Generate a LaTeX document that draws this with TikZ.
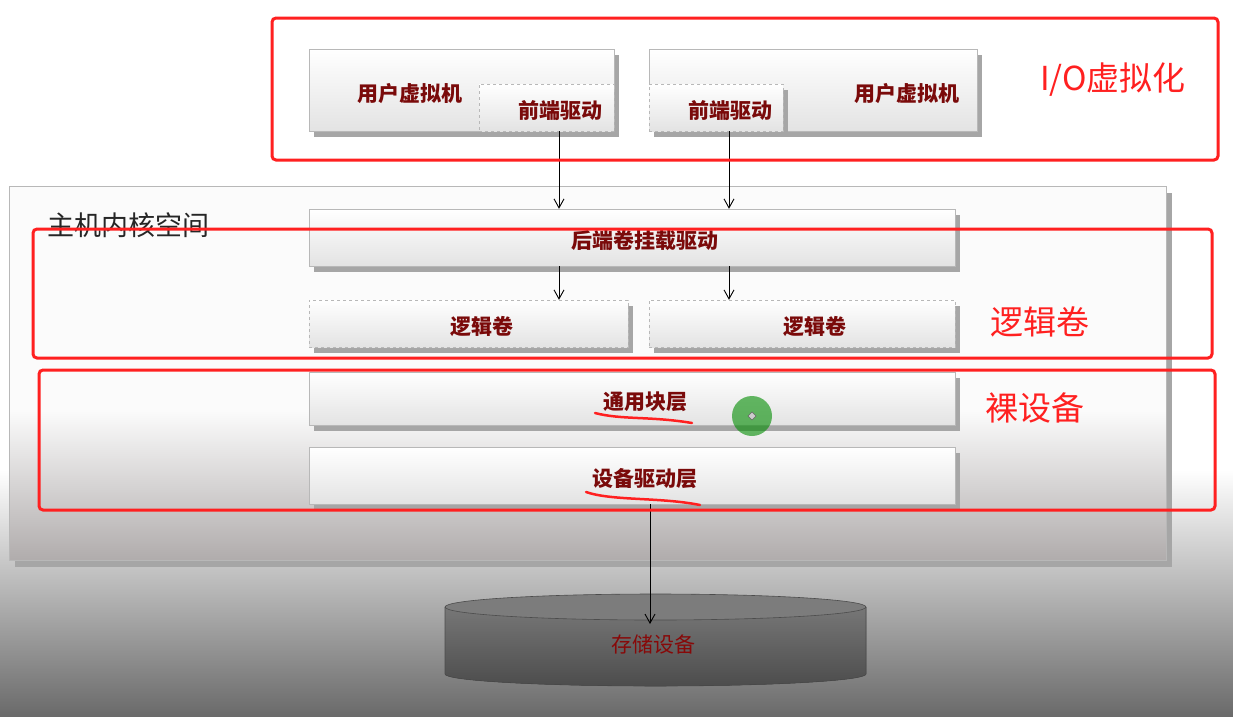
\documentclass[tikz,border=0pt]{standalone}
\usepackage{fontspec}
\setmainfont{Noto Sans CJK SC}
\newfontfamily\cjk{Noto Sans CJK SC}
\usetikzlibrary{arrows.meta,shadows}

\definecolor{boxred}{HTML}{FF2020}
\definecolor{txtred}{HTML}{7A0A0A}
\definecolor{edgegray}{HTML}{B8B8B8}
\definecolor{shadowgray}{HTML}{A6A6A6}
\definecolor{hostgray}{HTML}{B0ACAC}
\definecolor{floorgray}{HTML}{6A6A6A}
\definecolor{diskside}{HTML}{5A5A5A}
\definecolor{disktop}{HTML}{7C7C7C}

\pgfdeclareverticalshading{hostshade}{100bp}{color(0bp)=(hostgray); color(25bp)=(hostgray); color(45bp)=(white!97!gray); color(100bp)=(white!97!gray)}

\tikzset{
  layer/.style={draw=edgegray, top color=white, bottom color=gray!22, inner sep=0pt,
    drop shadow={shadow xshift=5pt, shadow yshift=-6pt, fill=shadowgray, opacity=1}},
  dashlayer/.style={layer, dashed},
  lbl/.style={font=\cjk\bfseries\fontsize{21}{21}\selectfont, text=txtred,
    text height=24pt, text depth=2pt},
  region/.style={draw=boxred, line width=3pt, rounded corners=4pt},
  regionlbl/.style={font=\cjk\fontsize{33}{33}\selectfont, text=boxred, anchor=west, inner sep=0pt},
  flow/.style={-{Straight Barb[length=9pt,width=10pt]}, line width=0.9pt},
  scribble/.style={draw=boxred, line width=2.5pt, line cap=round}
}

\begin{document}
\begin{tikzpicture}[x=1pt, y=-1pt]

  \useasboundingbox (0,0) rectangle (1233,716);
  % background
  \fill[white] (0,0) rectangle (1233,716);
  \fill[top color=white, bottom color=floorgray] (0,470) rectangle (1233,716);

  % host kernel space
  \node[draw=edgegray, shading=hostshade, minimum width=1157pt, minimum height=374pt,
        drop shadow={shadow xshift=6pt, shadow yshift=-7pt, fill=gray!70, opacity=1}]
        (host) at (587.5,373) {};
  \node[font=\cjk\fontsize{27}{27}\selectfont, text=black!85, anchor=west, inner sep=0pt]
        (hostlbl) at (47,225) {主机内核空间};

  % virtual machines
  \node[layer, minimum width=305pt, minimum height=82pt] (vm1) at (461.5,90) {};
  \node[layer, minimum width=328pt, minimum height=82pt] (vm2) at (813,90) {};
  \node[lbl] (vm1txt) at (410,90) {用户虚拟机};
  \node[lbl] (vm2txt) at (907,90) {用户虚拟机};
  \node[dashlayer, lbl, minimum width=135pt, minimum height=47pt] (fe1) at (546.5,107.5) {\hspace*{28pt}前端驱动};
  \node[dashlayer, lbl, minimum width=134pt, minimum height=47pt] (fe2) at (716,107.5) {\hspace*{28pt}前端驱动};

  % kernel layers
  \begin{scope}[every node/.style={minimum width=646pt}]
    \node[layer, lbl, minimum height=57pt] (back) at (632,237.5) {\hspace*{26pt}后端卷挂载驱动};
    \node[layer, lbl, minimum height=53pt] (blk)  at (632,398.5) {\hspace*{26pt}通用块层};
    \node[layer, lbl, minimum height=57pt] (drv)  at (632,475.5) {\hspace*{26pt}设备驱动层};
  \end{scope}
  \node[dashlayer, lbl, minimum width=319pt, minimum height=47pt] (lv1) at (468.5,323.5) {\hspace*{26pt}逻辑卷};
  \node[dashlayer, lbl, minimum width=306pt, minimum height=47pt] (lv2) at (802,323.5) {\hspace*{26pt}逻辑卷};

  % storage device
  \fill[top color=disktop!85!diskside, bottom color=diskside!85!black]
    (445,607) -- (445,674) arc[start angle=180, end angle=0, x radius=210.5, y radius=12] -- (866,607) -- cycle;
  \draw[black!70, line width=0.6pt]
    (445,607) -- (445,674) arc[start angle=180, end angle=0, x radius=210.5, y radius=12] -- (866,607);
  \draw[black!70, line width=0.6pt, fill=disktop] (655.5,607) ellipse[x radius=210.5, y radius=13];
  \coordinate (disk) at (650,624);
  \node[font=\cjk\fontsize{21}{21}\selectfont, text=txtred!90!red] (disklbl) at (653,645) {存储设备};

  % connectors
  \begin{scope}[every edge/.style={draw, flow}]
    \path ([xshift=12.5pt]fe1.south) edge ([xshift=12.5pt]fe1.south |- back.north);
    \path ([xshift=13pt]fe2.south)   edge ([xshift=13pt]fe2.south |- back.north);
    \path ([xshift=-73pt]back.south) edge ([xshift=-73pt]back.south |- lv1.north);
    \path ([xshift=97pt]back.south)  edge ([xshift=97pt]back.south |- lv2.north);
    \path ([xshift=18pt]drv.south)   edge (disk);
  \end{scope}

  % hand marks
  \draw[scribble] (595,413) .. controls (622,420) and (650,416) .. (692,423);
  \draw[scribble] (586,492) .. controls (612,501) and (660,497) .. (700,505);
  \fill[green!55!black, opacity=.6] (752,416) circle[radius=20];
  \draw[gray!80!black, fill=gray!40] (752,412) -- (756,416) -- (752,420) -- (748,416) -- cycle;

  % regions
  \draw[region] (272,18) rectangle (1218,160);
  \draw[region] (33,229) rectangle (1212,358);
  \draw[region] (39,370) rectangle (1215,510);
  \node[regionlbl] (iolbl) at (1040,80) {I/O虚拟化};
  \node[regionlbl] (lvlbl) at (990,322) {逻辑卷};
  \node[regionlbl] (rawlbl) at (985,408) {裸设备};

\end{tikzpicture}
\end{document}
